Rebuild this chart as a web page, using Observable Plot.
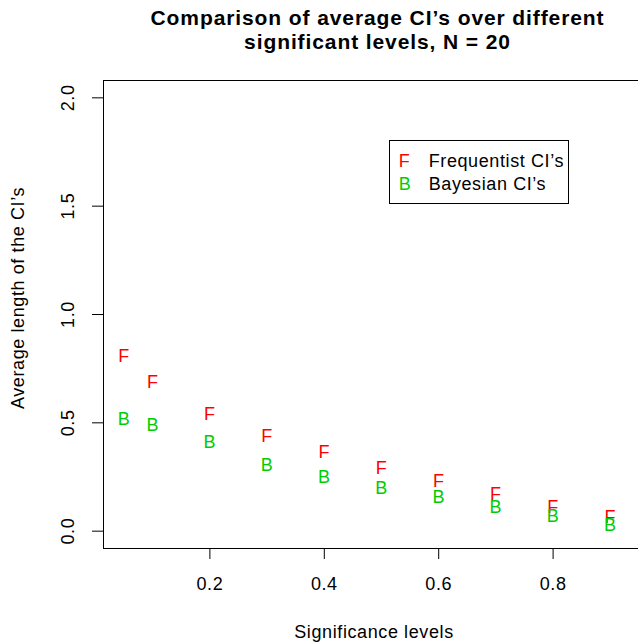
<!DOCTYPE html>
<html>
<head>
<meta charset="utf-8">
<script src="https://cdn.jsdelivr.net/npm/d3@7"></script>
<script src="https://cdn.jsdelivr.net/npm/@observablehq/plot@0.6"></script>
<style>
  html, body { margin: 0; padding: 0; background: #fff; overflow: hidden; }
  #wrap { position: relative; width: 638px; height: 644px; overflow: hidden; font-family: "Liberation Sans", Arial, sans-serif; }
  #title { position: absolute; left: 0; top: 5.7px; width: 755px; text-align: center; font-weight: bold; font-size: 21px; line-height: 24px; letter-spacing: 0.9px; color: #000; z-index: 2; }
  #legend { position: absolute; left: 389px; top: 140px; width: 178px; height: 62px; border: 1px solid #000; background: #fff; z-index: 2; font-size: 18px; letter-spacing: 0.6px; line-height: 20px; }
  #legend span { position: absolute; white-space: nowrap; }
  #chart { position: absolute; left: 0; top: 0; width: 680px; }
  #chart svg { max-width: none !important; width: 680px !important; height: 644px !important; }
</style>
</head>
<body>
<div id="wrap">
  <div id="title">Comparison of average CI’s over different<br>significant levels, N = 20</div>
  <div id="legend"></div>
  <div id="chart"></div>
</div>
<script>
// Data
const alpha = [0.05, 0.1, 0.2, 0.3, 0.4, 0.5, 0.6, 0.7, 0.8, 0.9];
const freqLen = [0.808, 0.686, 0.540, 0.438, 0.362, 0.292, 0.231, 0.171, 0.112, 0.066];
const bayesLen = [0.518, 0.489, 0.411, 0.302, 0.251, 0.198, 0.155, 0.112, 0.069, 0.028];
const xTicks = [0.2, 0.4, 0.6, 0.8];
const yTicks = [0.0, 0.5, 1.0, 1.5, 2.0];
const seriesNames = ["Frequentist CI’s", "Bayesian CI’s"];
const seriesSymbols = ["F", "B"];
const seriesColors = ["#FF0000", "#00CD00"];
const xLabel = "Significance levels";
const yLabel = "Average length of the CI’s";

const freqData = alpha.map((a, i) => ({a, v: freqLen[i]}));
const bayesData = alpha.map((a, i) => ({a, v: bayesLen[i]}));

const fs = 18;
const chart = Plot.plot({
  width: 680,
  height: 644,
  marginLeft: 103,
  marginRight: 21,
  marginTop: 80,
  marginBottom: 96,
  style: {fontFamily: "'Liberation Sans', Arial, sans-serif", fontSize: fs + "px", letterSpacing: "0.6px", background: "white", color: "black", maxWidth: "none"},
  x: {domain: [0.014, 0.986]},
  y: {domain: [-0.08, 2.08]},
  marks: [
    Plot.frame({stroke: "black", strokeWidth: 1}),
    Plot.axisX(xTicks, {tickSize: 11, tickPadding: 18.2, fontSize: fs, label: null, tickFormat: d => d.toFixed(1)}),
    Plot.axisY(yTicks, {tickSize: 11, label: null, tickFormat: () => ""}),
    Plot.text(yTicks, {y: d => d, frameAnchor: "left", rotate: -90, text: d => d.toFixed(1), dx: -29.7, lineAnchor: "bottom", textAnchor: "middle", fontSize: fs, fill: "black"}),
    Plot.text([xLabel], {frameAnchor: "bottom", text: d => d, dx: -7.5, dy: 89.7, lineAnchor: "bottom", textAnchor: "middle", fontSize: fs, fill: "black"}),
    Plot.text([yLabel], {frameAnchor: "left", text: d => d, rotate: -90, dx: -79.3, dy: -16.5, lineAnchor: "bottom", textAnchor: "middle", fontSize: fs, fill: "black"}),
    Plot.text(freqData, {x: "a", y: "v", text: () => seriesSymbols[0], fill: seriesColors[0], fontSize: 18, lineAnchor: "middle"}),
    Plot.text(bayesData, {x: "a", y: "v", text: () => seriesSymbols[1], fill: seriesColors[1], fontSize: 18, lineAnchor: "middle"})
  ]
});
document.getElementById("chart").appendChild(chart);

// Legend (HTML, real text)
const legend = document.getElementById("legend");
const rowTops = [9.7, 33.4];
seriesNames.forEach((name, i) => {
  const sym = document.createElement("span");
  sym.textContent = seriesSymbols[i];
  sym.style.left = "8.7px";
  sym.style.top = rowTops[i] + "px";
  sym.style.color = seriesColors[i];
  legend.appendChild(sym);
  const lab = document.createElement("span");
  lab.textContent = name;
  lab.style.left = "38.7px";
  lab.style.top = rowTops[i] + "px";
  lab.style.color = "#000";
  legend.appendChild(lab);
});
</script>
</body>
</html>
